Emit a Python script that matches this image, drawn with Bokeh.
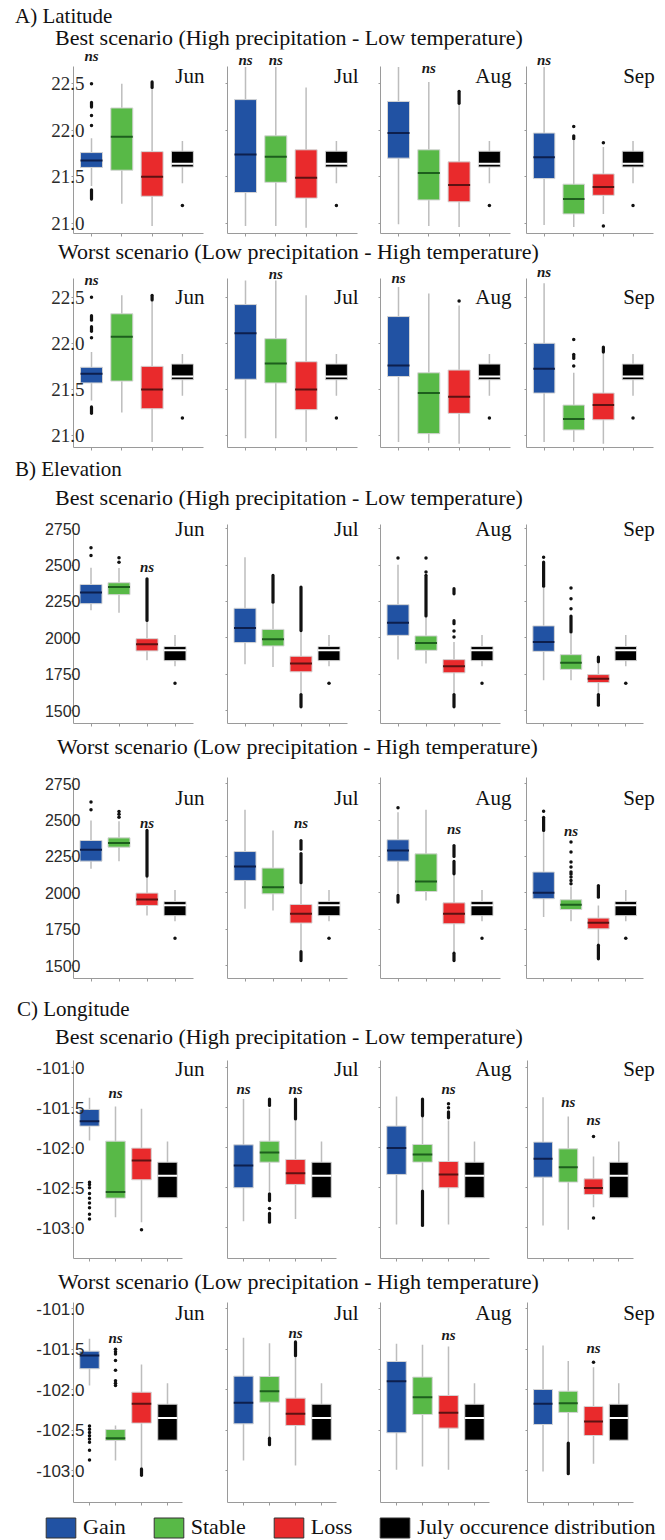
from bokeh.plotting import figure
from bokeh.models import (Range1d, FactorRange, FixedTicker, NumeralTickFormatter, ColumnDataSource,
                          Div, Legend, LegendItem, CustomLabelingPolicy)
from bokeh.layouts import column, row
from bokeh.core.properties import value
from bokeh.embed import file_html
from bokeh.resources import INLINE

MONTHS = ["Jun", "Jul", "Aug", "Sep"]
CATEGORIES = ["Gain", "Stable", "Loss", "July occurence distribution"]
COLORS = ["#2152a3", "#58b947", "#e92a2c", "#000000"]
MEDIAN_COLORS = ["#0d1f4d", "#1d5e1d", "#5c1212", "#ffffff"]

# ---------------- DATA ----------------
# each box: [lower whisker, Q1, median, Q3, upper whisker], one per month (Jun, Jul, Aug, Sep)
# *_out: single outliers per month; *_runs: dense stretches of outliers [low, high] per month
lat_july = [21.43, 21.605, 21.64, 21.775, 21.885]
lat_july_out = [21.19]

lat_best_box = {
    "Gain":   [[21.40, 21.60, 21.675, 21.76, 21.915], [20.97, 21.33, 21.74, 22.33, 22.68],
               [20.99, 21.70, 21.97, 22.31, 22.68], [20.98, 21.48, 21.71, 21.97, 22.68]],
    "Stable": [[21.21, 21.57, 21.93, 22.24, 22.50], [20.97, 21.44, 21.715, 21.94, 22.68],
               [20.97, 21.25, 21.54, 21.79, 22.52], [20.96, 21.10, 21.26, 21.42, 21.89]],
    "Loss":   [[20.97, 21.29, 21.50, 21.77, 22.46], [20.95, 21.27, 21.49, 21.79, 22.46],
               [20.96, 21.23, 21.41, 21.66, 22.28], [21.10, 21.30, 21.39, 21.53, 21.82]],
}
lat_best_out = {
    "Gain": [[22.50, 22.16, 22.05], [], [], []],
    "Stable": [[], [], [], [22.04]],
    "Loss": [[], [], [], [21.865, 20.97]],
}
lat_best_runs = {
    "Gain": [[[22.25, 22.30], [21.26, 21.36]], [], [], []],
    "Stable": [[], [], [], [[21.91, 21.94]]],
    "Loss": [[[22.46, 22.52]], [], [[22.29, 22.42]], []],
}
lat_best_ns = [("Jun", "Gain", 22.80), ("Jul", "Gain", 22.76), ("Jul", "Stable", 22.76),
               ("Aug", "Stable", 22.675), ("Sep", "Gain", 22.76)]

lat_worst_box = {
    "Gain":   [[21.38, 21.57, 21.67, 21.74, 21.905], [20.97, 21.61, 22.11, 22.42, 22.68],
               [20.93, 21.64, 21.76, 22.29, 22.61], [20.93, 21.46, 21.725, 22.00, 22.65]],
    "Stable": [[21.25, 21.59, 22.07, 22.32, 22.52], [20.97, 21.57, 21.78, 22.05, 22.68],
               [20.92, 21.02, 21.46, 21.68, 22.54], [20.93, 21.06, 21.18, 21.33, 21.68]],
    "Loss":   [[20.93, 21.29, 21.50, 21.75, 22.47], [20.93, 21.28, 21.50, 21.80, 22.52],
               [20.91, 21.24, 21.42, 21.71, 22.41], [20.91, 21.17, 21.33, 21.46, 21.89]],
}
lat_worst_out = {
    "Gain": [[22.50, 22.06], [], [], []],
    "Stable": [[], [], [], [22.04, 21.755]],
    "Loss": [[], [], [22.46], []],
}
lat_worst_runs = {
    "Gain": [[[22.25, 22.30], [22.13, 22.18], [21.24, 21.31]], [], [], []],
    "Stable": [[], [], [], [[21.835, 21.88]]],
    "Loss": [[[22.47, 22.52]], [], [], [[21.905, 21.96]]],
}
lat_worst_ns = [("Jun", "Gain", 22.685), ("Jul", "Stable", 22.75), ("Aug", "Gain", 22.71),
                ("Sep", "Gain", 22.77)]

elev_july = [1805, 1843, 1915, 1940, 2020]
elev_july_out = [1688]

elev_best_box = {
    "Gain":   [[2189, 2235, 2312, 2367, 2482], [1818, 1967, 2068, 2203, 2555],
               [1850, 2017, 2104, 2228, 2503], [1708, 1907, 1972, 2082, 2349]],
    "Stable": [[2173, 2297, 2349, 2379, 2480], [1800, 1944, 1990, 2058, 2235],
               [1823, 1914, 1965, 2013, 2143], [1708, 1783, 1829, 1884, 2029]],
    "Loss":   [[1845, 1910, 1955, 1994, 2109], [1616, 1766, 1823, 1873, 2040],
               [1616, 1759, 1804, 1850, 1972], [1616, 1692, 1719, 1747, 1823]],
}
elev_best_out = {
    "Gain": [[2567, 2619], [], [2549], [2555]],
    "Stable": [[2520, 2550], [], [2453, 2549], [2200, 2269, 2342]],
    "Loss": [[], [], [2006, 2047], []],
}
elev_best_runs = {
    "Gain": [[], [], [], [[2355, 2521]]],
    "Stable": [[], [[2245, 2429]], [[2150, 2430]], [[2040, 2150]]],
    "Loss": [[[2120, 2406]], [[2050, 2349], [1525, 1610]],
             [[2097, 2118], [2303, 2338], [1525, 1610]], [[1835, 1868], [1536, 1610]]],
}
elev_best_ns = [("Jun", "Loss", 2484)]

elev_worst_box = {
    "Gain":   [[2165, 2218, 2296, 2360, 2498], [1890, 2085, 2181, 2284, 2571],
               [1993, 2218, 2291, 2365, 2555], [1833, 1959, 2000, 2143, 2429]],
    "Stable": [[2218, 2314, 2342, 2378, 2493], [1878, 1993, 2039, 2170, 2429],
               [1947, 2009, 2078, 2268, 2571], [1805, 1885, 1918, 1952, 2043]],
    "Loss":   [[1844, 1913, 1954, 1998, 2108], [1603, 1792, 1856, 1920, 2062],
               [1592, 1787, 1856, 1931, 2131], [1649, 1752, 1794, 1826, 1913]],
}
elev_worst_out = {
    "Gain": [[2571, 2624], [], [2585], [2562]],
    "Stable": [[2520, 2540, 2560], [], [],
               [2062, 2085, 2108, 2130, 2144, 2178, 2212, 2281, 2349]],
    "Loss": [[], [], [], []],
}
elev_worst_runs = {
    "Gain": [[], [], [[1936, 1982]], [[2429, 2520]]],
    "Stable": [[], [], [], []],
    "Loss": [[[2115, 2429]], [[2300, 2360], [2070, 2270], [1534, 1595]],
             [[2131, 2216], [2250, 2325], [1534, 1585]], [[1970, 2050], [1546, 1640]]],
}
elev_worst_ns = [("Jun", "Loss", 2477), ("Jul", "Loss", 2477), ("Aug", "Loss", 2442),
                 ("Sep", "Stable", 2428)]

lon_july = [-102.625, -102.625, -102.35, -102.18, -101.92]
lon_july_out = []

lon_best_box = {
    "Gain":   [[-101.908, -101.729, -101.667, -101.521, -101.375],
               [-102.917, -102.50, -102.22, -101.963, -101.39],
               [-102.958, -102.333, -102.004, -101.729, -101.358],
               [-102.97, -102.367, -102.138, -101.929, -101.367]],
    "Stable": [[-102.867, -102.629, -102.554, -101.917, -101.483],
               [-102.55, -102.18, -102.06, -101.917, -101.51],
               [-102.525, -102.179, -102.083, -101.958, -101.60],
               [-103.025, -102.429, -102.242, -102.013, -101.608]],
    "Loss":   [[-102.93, -102.40, -102.158, -102.004, -101.513],
               [-102.89, -102.458, -102.317, -102.146, -101.658],
               [-102.958, -102.50, -102.333, -102.171, -101.658],
               [-102.742, -102.583, -102.504, -102.388, -102.108]],
}
lon_best_out = {
    "Gain": [[-102.43, -102.46, -102.50, -102.57, -102.63, -102.69, -102.75, -102.83, -102.89],
             [], [], []],
    "Stable": [[], [-102.76], [], []],
    "Loss": [[-103.025], [], [-101.45, -101.50], [-101.858, -102.879]],
}
lon_best_runs = {
    "Gain": [[], [], [], []],
    "Stable": [[], [[-101.47, -101.39], [-102.66, -102.575], [-102.93, -102.82]],
               [[-101.60, -101.39], [-102.97, -102.54]], []],
    "Loss": [[], [[-101.64, -101.39]], [[-101.625, -101.55]], []],
}
lon_best_ns = [("Jun", "Stable", -101.32), ("Jul", "Gain", -101.26), ("Jul", "Loss", -101.26),
               ("Aug", "Loss", -101.27), ("Sep", "Stable", -101.43), ("Sep", "Loss", -101.65)]

lon_worst_box = {
    "Gain":   [[-101.948, -101.742, -101.577, -101.524, -101.371],
               [-102.876, -102.423, -102.163, -101.833, -101.359],
               [-102.99, -102.534, -101.895, -101.652, -101.433],
               [-103.012, -102.431, -102.175, -101.998, -101.454]],
    "Stable": [[-102.876, -102.629, -102.60, -102.493, -102.443],
               [-102.588, -102.155, -102.019, -101.837, -101.425],
               [-102.95, -102.307, -102.093, -101.845, -101.445],
               [-102.649, -102.282, -102.167, -102.019, -101.647]],
    "Loss":   [[-102.959, -102.414, -102.175, -102.031, -101.689],
               [-102.938, -102.443, -102.299, -102.105, -101.598],
               [-102.99, -102.476, -102.287, -102.072, -101.466],
               [-102.918, -102.567, -102.394, -102.208, -101.722]],
}
lon_worst_out = {
    "Gain": [[-102.45, -102.49, -102.53, -102.57, -102.61, -102.65, -102.75, -102.87], [], [], []],
    "Stable": [[-101.50, -101.53, -101.56, -101.64, -101.76, -101.89, -101.92, -101.95], [], [], []],
    "Loss": [[], [], [], [-101.66]],
}
lon_worst_runs = {
    "Gain": [[], [], [], []],
    "Stable": [[], [[-102.68, -102.60]], [], [[-103.04, -102.66]]],
    "Loss": [[[-103.06, -102.98]], [[-101.58, -101.41]], [], []],
}
lon_worst_ns = [("Jun", "Stable", -101.355), ("Jul", "Loss", -101.30), ("Aug", "Loss", -101.33),
                ("Sep", "Loss", -101.48)]

lat_ticks = [21.0, 21.5, 22.0, 22.5]
elev_ticks = [1500, 1750, 2000, 2250, 2500, 2750]
lon_ticks = [-103.0, -102.5, -102.0, -101.5, -101.0]

# ---------------- LAYOUT / STYLE ----------------
SERIF = "Liberation Serif"
SANS = "Liberation Sans"
AXIS_C = "#9a9a9a"
WHISKER_C = "#bdbdbd"

FIG_W = [214, 154, 151, 146]
BORDER_L = [73, 13, 12, 4]
BORDER_R = [2, 2, 2, 5]
FRAME_W = [w - l - r for w, l, r in zip(FIG_W, BORDER_L, BORDER_R)]

NO_LABELS = CustomLabelingPolicy(code="""
for (const i of [...indices]) { indices.unset(i) }
return indices
""")

ROWS = [
    dict(box=lat_best_box, out=lat_best_out, runs=lat_best_runs, ns=lat_best_ns,
         july=lat_july, july_out=lat_july_out, ticks=lat_ticks, fmt="0.0",
         ref=((22.5, 83.3), (21.0, 222.7)), top=49, frame_bottom=233, bottom=240,
         spine=66, month_y=75, step=30.3, lead=18, tail=21, bw=22,
         font=SERIF, fsize="19px", standoff=-13),
    dict(box=lat_worst_box, out=lat_worst_out, runs=lat_worst_runs, ns=lat_worst_ns,
         july=lat_july, july_out=lat_july_out, ticks=lat_ticks, fmt="0.0",
         ref=((22.5, 296.7), (21.0, 435.0)), top=264, frame_bottom=447, bottom=455,
         spine=278, month_y=296, step=30.3, lead=18, tail=21, bw=22,
         font=SERIF, fsize="19px", standoff=-13),
    dict(box=elev_best_box, out=elev_best_out, runs=elev_best_runs, ns=elev_best_ns,
         july=elev_july, july_out=elev_july_out, ticks=elev_ticks, fmt="0",
         ref=((2750, 528.3), (1500, 710.0)), top=512, frame_bottom=723, bottom=730,
         spine=524, month_y=528, step=28, lead=17.5, tail=18, bw=22,
         font=SANS, fsize="16px", standoff=-9),
    dict(box=elev_worst_box, out=elev_worst_out, runs=elev_worst_runs, ns=elev_worst_ns,
         july=elev_july, july_out=elev_july_out, ticks=elev_ticks, fmt="0",
         ref=((2750, 783.3), (1500, 965.0)), top=765, frame_bottom=978, bottom=985,
         spine=777, month_y=797, step=28, lead=17.5, tail=18, bw=22,
         font=SANS, fsize="16px", standoff=-9),
    dict(box=lon_best_box, out=lon_best_out, runs=lon_best_runs, ns=lon_best_ns,
         july=lon_july, july_out=lon_july_out, ticks=lon_ticks, fmt="0.0",
         ref=((-101.0, 1067.3), (-103.0, 1227.3)), top=1050, frame_bottom=1258, bottom=1265,
         spine=1060, month_y=1068, step=26, lead=16, tail=15, bw=19.5,
         font=SANS, fsize="17px", standoff=-13),
    dict(box=lon_worst_box, out=lon_worst_out, runs=lon_worst_runs, ns=lon_worst_ns,
         july=lon_july, july_out=lon_july_out, ticks=lon_ticks, fmt="0.0",
         ref=((-101.0, 1308.3), (-103.0, 1470.0)), top=1297, frame_bottom=1502, bottom=1510,
         spine=1302, month_y=1312, step=26, lead=16, tail=15, bw=19.5,
         font=SANS, fsize="17px", standoff=-13),
]


def v_of(cfg, px):
    (v1, p1), (v2, p2) = cfg["ref"]
    return v1 + (px - p1) * (v2 - v1) / (p2 - p1)


def panel(cfg, mi):
    s = cfg["step"]
    xs = 1 - cfg["lead"] / s
    xe = xs + FRAME_W[mi] / s
    ys = v_of(cfg, cfg["frame_bottom"])
    ye = v_of(cfg, cfg["top"])
    p = figure(width=FIG_W[mi], height=cfg["bottom"] - cfg["top"],
               x_range=Range1d(xs, xe), y_range=Range1d(ys, ye),
               output_backend="svg", toolbar_location=None, title=None,
               min_border_left=BORDER_L[mi], min_border_right=BORDER_R[mi],
               min_border_top=0, min_border_bottom=cfg["bottom"] - cfg["frame_bottom"],
               outline_line_color=None, background_fill_color="white",
               border_fill_color="white")
    p.margin = (0, 0, 0, 0)
    p.grid.visible = False

    # axes
    xa = p.xaxis[0]
    xa.ticker = FixedTicker(ticks=[1, 2, 3, 4])
    xa.bounds = (xs, 4 + cfg["tail"] / s)
    xa.major_tick_in = 0
    xa.major_tick_out = 3
    xa.minor_tick_in = 0
    xa.minor_tick_out = 0
    xa.minor_tick_line_color = None
    xa.major_label_text_font_size = "1px"
    xa.major_label_policy = NO_LABELS
    xa.major_label_standoff = 0
    xa.axis_line_color = AXIS_C
    xa.major_tick_line_color = AXIS_C

    ya = p.yaxis[0]
    ya.ticker = FixedTicker(ticks=cfg["ticks"])
    ya.formatter = NumeralTickFormatter(format=cfg["fmt"])
    ya.bounds = (ys, v_of(cfg, cfg["spine"]))
    ya.major_tick_in = 0
    ya.major_tick_out = 2
    ya.minor_tick_in = 0
    ya.minor_tick_out = 0
    ya.minor_tick_line_color = None
    ya.axis_line_color = AXIS_C
    ya.major_tick_line_color = AXIS_C
    if mi == 0:
        ya.major_label_text_font = cfg["font"]
        ya.major_label_text_font_size = cfg["fsize"]
        ya.major_label_text_color = "#2a2a2a"
        ya.major_label_standoff = cfg["standoff"]
    else:
        ya.major_label_text_font_size = "1px"
        ya.major_label_policy = NO_LABELS
        ya.major_label_standoff = 0

    # boxes
    stats = [cfg["box"][c][mi] for c in CATEGORIES[:3]] + [cfg["july"]]
    bw = cfg["bw"] / s
    xpos = [1, 2, 3, 4]
    src = ColumnDataSource(dict(
        x=xpos,
        lo=[b[0] for b in stats], q1=[b[1] for b in stats], med=[b[2] for b in stats],
        q3=[b[3] for b in stats], hi=[b[4] for b in stats],
        x0=[x - bw / 2 for x in xpos], x1=[x + bw / 2 for x in xpos],
        color=COLORS, mcolor=MEDIAN_COLORS))
    p.segment(x0="x", y0="lo", x1="x", y1="hi", line_color=WHISKER_C, line_width=1.5, source=src)

    # outliers
    ox, oy = [], []
    rx, r0, r1 = [], [], []
    for ci, c in enumerate(CATEGORIES[:3]):
        for v in cfg["out"][c][mi]:
            ox.append(ci + 1)
            oy.append(v)
        for lo, hi in cfg["runs"][c][mi]:
            rx.append(ci + 1)
            r0.append(lo)
            r1.append(hi)
    for v in cfg["july_out"]:
        ox.append(4)
        oy.append(v)
    if rx:
        p.segment(x0=rx, y0=r0, x1=rx, y1=r1, line_color="#111111", line_width=3.2,
                  line_cap="round")
    if ox:
        p.scatter(x=ox, y=oy, size=3.5, fill_color="#111111", line_color=None)

    p.vbar(x="x", width=bw, bottom="q1", top="q3", fill_color="color",
           line_color="#d4d4d4", line_width=1, source=src)
    p.segment(x0="x0", y0="med", x1="x1", y1="med", line_color="mcolor", line_width=2,
              source=src)

    # ns labels
    nx = [CATEGORIES.index(c) + 1 for (m, c, y) in cfg["ns"] if m == MONTHS[mi]]
    ny = [y for (m, c, y) in cfg["ns"] if m == MONTHS[mi]]
    if nx:
        p.text(x=nx, y=ny, text=["ns"] * len(nx), text_font=value(SERIF),
               text_font_style="bold italic", text_font_size="15px",
               text_align="center", text_baseline="middle", text_color="#1a1a1a")

    # month label
    p.text(x=[xs + 131 / s], y=[v_of(cfg, cfg["month_y"])], text=[MONTHS[mi]],
           text_font=value(SERIF), text_font_size="21px", text_align="right",
           text_baseline="middle", text_color="#111111")
    return p


def title_div(height, lines):
    spans = ""
    for t, x, cy, size in lines:
        spans += ('<div style="position:absolute;left:%dpx;top:%.1fpx;'
                  'font-family:\'Liberation Serif\',serif;font-size:%dpx;line-height:%dpx;'
                  'white-space:nowrap;color:#111111">%s</div>'
                  % (x, cy - size * 0.5, size, size, t))
    d = Div(text='<div style="position:relative;width:665px;height:%dpx">%s</div>'
            % (height, spans), width=665, height=height)
    d.margin = (0, 0, 0, 0)
    return d


BEST = "Best scenario (High precipitation - Low temperature)"
WORST = "Worst scenario (Low precipitation - High temperature)"

children = []
children.append(title_div(49, [("A) Latitude", 15, 16, 21), (BEST, 55, 37.5, 22)]))
children.append(row(*[panel(ROWS[0], m) for m in range(4)], spacing=0))
children.append(title_div(24, [(WORST, 58, 252 - 240, 22)]))
children.append(row(*[panel(ROWS[1], m) for m in range(4)], spacing=0))
children.append(title_div(57, [("B) Elevation", 15, 469 - 455, 21), (BEST, 55, 498 - 455, 22)]))
children.append(row(*[panel(ROWS[2], m) for m in range(4)], spacing=0))
children.append(title_div(35, [(WORST, 57, 747 - 730, 22)]))
children.append(row(*[panel(ROWS[3], m) for m in range(4)], spacing=0))
children.append(title_div(65, [("C) Longitude", 17, 1009 - 985, 21), (BEST, 55, 1037 - 985, 22)]))
children.append(row(*[panel(ROWS[4], m) for m in range(4)], spacing=0))
children.append(title_div(32, [(WORST, 58, 1282 - 1265, 22)]))
children.append(row(*[panel(ROWS[5], m) for m in range(4)], spacing=0))

# legend: zero-size bars (below the visible range) only serve as legend swatches
lp = figure(width=665, height=30, x_range=FactorRange(*CATEGORIES), y_range=Range1d(1, 2),
            output_backend="svg", toolbar_location=None, title=None, min_border=0,
            outline_line_color=None, x_axis_type=None, y_axis_type=None)
lp.margin = (0, 0, 0, 0)
leg_src = ColumnDataSource(dict(cat=CATEGORIES, color=COLORS, zero=[0] * len(CATEGORIES)))
r = lp.vbar(x="cat", top="zero", bottom="zero", width=0, fill_color="color",
            line_color="#333333", source=leg_src)
items = [LegendItem(label=cat, renderers=[r], index=i) for i, cat in enumerate(CATEGORIES)]
leg = Legend(items=items, orientation="horizontal", location=(42, 0),
             glyph_width=37, glyph_height=25, label_standoff=4, spacing=24,
             padding=0, margin=0, border_line_color=None, background_fill_alpha=0,
             label_text_font=SERIF, label_text_font_size="22px",
             label_text_color="#111111", label_text_baseline="middle")
lp.add_layout(leg)
children.append(lp)

layout = column(*children, spacing=0)
layout.margin = (0, 0, 0, 0)

open("out.html", "w").write(file_html(layout, INLINE))
